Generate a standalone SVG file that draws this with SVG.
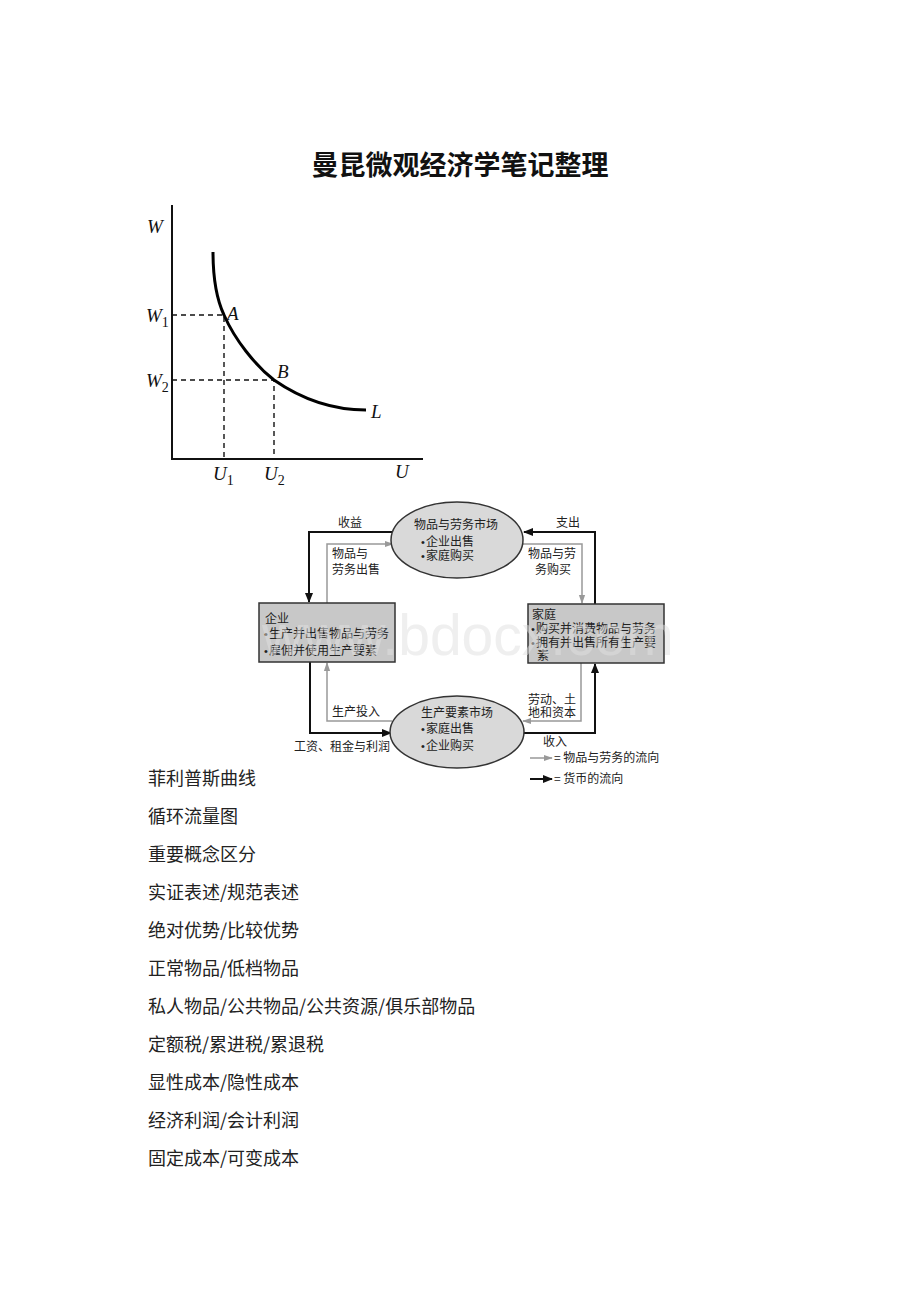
<svg xmlns="http://www.w3.org/2000/svg" width="920" height="1302" viewBox="0 0 920 1302">
<style>
.cjk{font-family:"Noto Sans CJK SC","Noto Sans CJK JP",sans-serif;fill:#111}
.title{font-size:27px;font-weight:bold}
.item{font-size:18px;fill:#222}
.small{font-size:12px;fill:#222}
.b{font-family:"Liberation Sans",sans-serif;font-size:11px;fill:#222}
.math{font-family:"Liberation Serif",serif;font-style:italic;font-size:19px;fill:#111}
.sub{font-family:"Liberation Serif",serif;font-size:14px;font-style:normal}
.axis{stroke:#111;stroke-width:2;fill:none}
.dash{stroke:#111;stroke-width:1.4;stroke-dasharray:5,4;fill:none}
.box{fill:#c8c8c8;stroke:#333;stroke-width:1.5}
.ell{fill:#d9d9d9;stroke:#333;stroke-width:1.5}
.blk{stroke:#111;stroke-width:2;fill:none}
.gry{stroke:#999;stroke-width:1.5;fill:none}
</style>
<defs>
<marker id="ab" viewBox="0 0 10 10" refX="9" refY="5" markerWidth="10" markerHeight="10" markerUnits="userSpaceOnUse" orient="auto"><path d="M0,1 L10,5 L0,9 Z" fill="#111"/></marker>
<marker id="ag" viewBox="0 0 10 10" refX="9" refY="5" markerWidth="9" markerHeight="9" markerUnits="userSpaceOnUse" orient="auto"><path d="M0,1.5 L10,5 L0,8.5 Z" fill="#999"/></marker>
</defs>
<rect width="920" height="1302" fill="#fff"/>
<text class="cjk title" x="460" y="175" text-anchor="middle">曼昆微观经济学笔记整理</text>

<g id="graph">
<path class="axis" d="M172,205 V459 H423"/>
<path class="dash" d="M172,315 H224 V459"/>
<path class="dash" d="M172,380 H274 V459"/>
<path d="M213,252 C213,280 217,300 224,315 C235,340 255,365 274,380 C300,398 330,410 366,410" stroke="#000" stroke-width="3" fill="none"/>
<text class="math" x="147" y="233">W</text>
<text class="math" x="146" y="322">W<tspan class="sub" dy="5">1</tspan></text>
<text class="math" x="146" y="387">W<tspan class="sub" dy="5">2</tspan></text>
<text class="math" x="227" y="320">A</text>
<text class="math" x="277" y="378">B</text>
<text class="math" x="371" y="418">L</text>
<text class="math" x="213" y="480">U<tspan class="sub" dy="5">1</tspan></text>
<text class="math" x="264" y="480">U<tspan class="sub" dy="5">2</tspan></text>
<text class="math" x="395" y="478">U</text>
</g>

<g id="connectors">
<path class="blk" d="M392,532 H309 V602" marker-end="url(#ab)"/>
<path class="gry" d="M327,603 V544 H393" marker-end="url(#ag)"/>
<path class="blk" d="M595,604 V532 H524" marker-end="url(#ab)"/>
<path class="gry" d="M520,544 H582 V603" marker-end="url(#ag)"/>
<path class="blk" d="M310,662 V733 H391" marker-end="url(#ab)"/>
<path class="gry" d="M392,721 H327 V663" marker-end="url(#ag)"/>
<path class="gry" d="M581,663 V721 H523" marker-end="url(#ag)"/>
<path class="blk" d="M522,733 H595 V664" marker-end="url(#ab)"/>
<path class="gry" d="M530,758 H552" marker-end="url(#ag)"/>
<path class="blk" d="M530,779 H552" marker-end="url(#ab)"/>
<text class="cjk small" x="350" y="527" text-anchor="middle">收益</text>
<text class="cjk small" x="332" y="558">物品与</text>
<text class="cjk small" x="332" y="574">劳务出售</text>
<text class="cjk small" x="568" y="527" text-anchor="middle">支出</text>
<text class="cjk small" x="528" y="558">物品与劳</text>
<text class="cjk small" x="535" y="574">务购买</text>
<text class="cjk small" x="332" y="716">生产投入</text>
<text class="cjk small" x="390" y="751" text-anchor="end">工资、租金与利润</text>
<text class="cjk small" x="528" y="704">劳动、土</text>
<text class="cjk small" x="528" y="717">地和资本</text>
<text class="cjk small" x="555" y="746" text-anchor="middle">收入</text>
<text class="cjk small" x="554" y="762">= 物品与劳务的流向</text>
<text class="cjk small" x="554" y="783">= 货币的流向</text>
</g>

<g id="goods-market">
<ellipse class="ell" cx="457" cy="540" rx="66" ry="38"/>
<text class="cjk small" x="456" y="529" text-anchor="middle">物品与劳务市场</text>
<text class="b" x="421" y="546">•</text><text class="cjk small" x="426" y="546">企业出售</text>
<text class="b" x="421" y="560">•</text><text class="cjk small" x="426" y="560">家庭购买</text>
</g>

<g id="factor-market">
<ellipse class="ell" cx="457" cy="732" rx="67" ry="36"/>
<text class="cjk small" x="457" y="717" text-anchor="middle">生产要素市场</text>
<text class="b" x="421" y="733">•</text><text class="cjk small" x="426" y="733">家庭出售</text>
<text class="b" x="421" y="750">•</text><text class="cjk small" x="426" y="750">企业购买</text>
</g>

<g id="firm">
<rect class="box" x="259" y="603" width="136" height="59"/>
<text class="cjk small" x="265" y="623">企业</text>
<text class="b" x="264" y="638">•</text><text class="cjk small" x="269" y="638">生产并出售物品与劳务</text>
<text class="b" x="264" y="655">•</text><text class="cjk small" x="269" y="655">雇佣并使用生产要素</text>
</g>

<g id="household">
<rect class="box" x="528" y="604" width="136" height="59"/>
<text class="cjk small" x="532" y="619">家庭</text>
<text class="b" x="531" y="633">•</text><text class="cjk small" x="536" y="633">购买并消费物品与劳务</text>
<text class="b" x="531" y="647">•</text><text class="cjk small" x="536" y="647">拥有并出售所有生产要</text>
<text class="cjk small" x="537" y="660">素</text>
</g>

<text x="262" y="655" font-family="Liberation Sans, sans-serif" font-size="57" fill="#e0e0e0" opacity="0.5">www.bdocx.com</text>

<g id="list" class="cjk item">
<text x="148" y="785">菲利普斯曲线</text>
<text x="148" y="823">循环流量图</text>
<text x="148" y="861">重要概念区分</text>
<text x="148" y="899">实证表述/规范表述</text>
<text x="148" y="937">绝对优势/比较优势</text>
<text x="148" y="975">正常物品/低档物品</text>
<text x="148" y="1013">私人物品/公共物品/公共资源/俱乐部物品</text>
<text x="148" y="1051">定额税/累进税/累退税</text>
<text x="148" y="1089">显性成本/隐性成本</text>
<text x="148" y="1127">经济利润/会计利润</text>
<text x="148" y="1165">固定成本/可变成本</text>
</g>
</svg>
